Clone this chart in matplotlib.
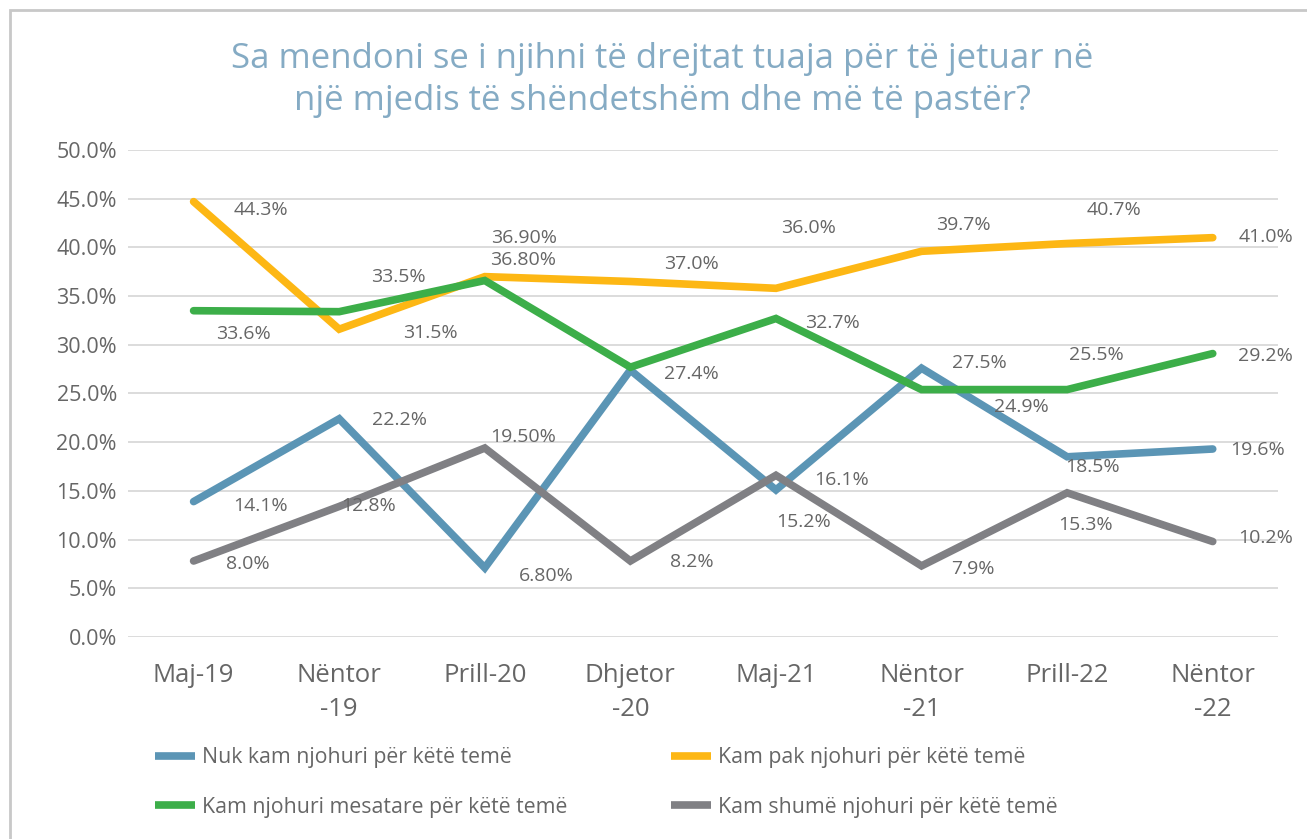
import matplotlib.pyplot as plt
from matplotlib.lines import Line2D
from matplotlib.patches import Rectangle

plt.rcParams['font.family'] = ['Open Sans', 'DejaVu Sans']

# te dhenat (vlerat sipas pozicionit te vijave ne grafik)
periudhat = ['Maj-19', 'Nëntor\n-19', 'Prill-20', 'Dhjetor\n-20', 'Maj-21', 'Nëntor\n-21', 'Prill-22', 'Nëntor\n-22']

nuk_kam = [13.9, 22.4, 7.1, 27.4, 15.1, 27.6, 18.5, 19.3]
pak = [44.7, 31.6, 37.0, 36.5, 35.8, 39.6, 40.4, 41.0]
mesatare = [33.5, 33.4, 36.6, 27.7, 32.7, 25.4, 25.4, 29.1]
shume = [7.8, 13.4, 19.4, 7.8, 16.6, 7.3, 14.8, 9.8]

# etiketat e vlerave sic jane shkruar ne grafik
lbl_nuk = ['14.1%', '22.2%', '6.80%', '', '15.2%', '27.5%', '18.5%', '19.6%']
lbl_pak = ['44.3%', '31.5%', '36.90%', '37.0%', '36.0%', '39.7%', '40.7%', '41.0%']
lbl_mes = ['33.6%', '33.5%', '36.80%', '27.4%', '32.7%', '24.9%', '25.5%', '29.2%']
lbl_shu = ['8.0%', '12.8%', '19.50%', '8.2%', '16.1%', '7.9%', '15.3%', '10.2%']

emrat = ['Nuk kam njohuri për këtë temë', 'Kam pak njohuri për këtë temë',
         'Kam njohuri mesatare për këtë temë', 'Kam shumë njohuri për këtë temë']

# zhvendosjet e etiketave (piksela)
off_nuk = [(67, -4), (60, -1), (62, -8), (0, 0), (28, -32), (58, 5), (25, -10), (45, -1)]
off_pak = [(67, -8), (91, -4), (39, 39), (61, 17), (33, 60), (42, 26), (47, 34), (53, 1)]
off_mes = [(50, -23), (59, 35), (38, 21), (61, -7), (56, -5), (100, -17), (29, 35), (53, -2)]
off_shu = [(54, -3), (29, 0), (38, 11), (61, -1), (66, -5), (51, -3), (18, -32), (53, 4)]

ngjyrat = ['#5b95b5', '#fdb714', '#3cae49', '#808084']
teksti = '#666666'

fig = plt.figure(figsize=(13.07, 8.39), dpi=100)
ax = fig.add_axes([0.098, 0.2408, 0.88, 0.5804])

x = range(len(periudhat))
seri = [(nuk_kam, lbl_nuk, off_nuk), (pak, lbl_pak, off_pak),
        (mesatare, lbl_mes, off_mes), (shume, lbl_shu, off_shu)]
for (vals, lbls, offs), c in zip(seri, ngjyrat):
    ax.plot(x, vals, color=c, lw=5.5, solid_capstyle='round', solid_joinstyle='miter', zorder=3)
    for i, (v, t, o) in enumerate(zip(vals, lbls, offs)):
        if t:
            ax.annotate(t, (i, v), xytext=o, textcoords='offset pixels',
                        ha='center', va='center', fontsize=14, color=teksti, zorder=4)

ax.set_xlim(-0.45, 7.45)
ax.set_ylim(0, 50)
ax.set_yticks(range(0, 51, 5))
ax.set_yticklabels([f'{v:.1f}%' for v in range(0, 51, 5)])
ax.set_xticks(list(x))
ax.set_xticklabels(periudhat, linespacing=1.45)
ax.tick_params(axis='both', length=0, labelcolor=teksti)
ax.tick_params(axis='y', labelsize=15.5, pad=8)
ax.tick_params(axis='x', labelsize=18.5, pad=19)
ax.grid(axis='y', color='#d9d9d9', lw=1.3)
ax.set_axisbelow(True)
for s in ax.spines.values():
    s.set_visible(False)

fig.text(0.507, 0.905, 'Sa mendoni se i njihni të drejtat tuaja për të jetuar në\nnjë mjedis të shëndetshëm dhe më të pastër?',
         ha='center', va='center', fontsize=25, color='#85abc4', linespacing=1.32)

handles = [Line2D([], [], color=ngjyrat[i], lw=5.5, solid_capstyle='butt') for i in (0, 2, 1, 3)]
labels = [emrat[i] for i in (0, 2, 1, 3)]
fig.legend(handles, labels, loc='upper left', bbox_to_anchor=(155 / 1307, 0.1097),
           ncol=2, frameon=False, fontsize=15.3, labelcolor=teksti, borderpad=0, borderaxespad=0,
           handlelength=1.9, handletextpad=0.33, columnspacing=4.85, labelspacing=1.35)

fig.patches.append(Rectangle((10 / 1307, -0.01), 1.0, 1 - 10 / 839 + 0.01, transform=fig.transFigure,
                             fill=False, edgecolor='#c8c8c8', lw=2))

fig.savefig('out.png', dpi=100)
